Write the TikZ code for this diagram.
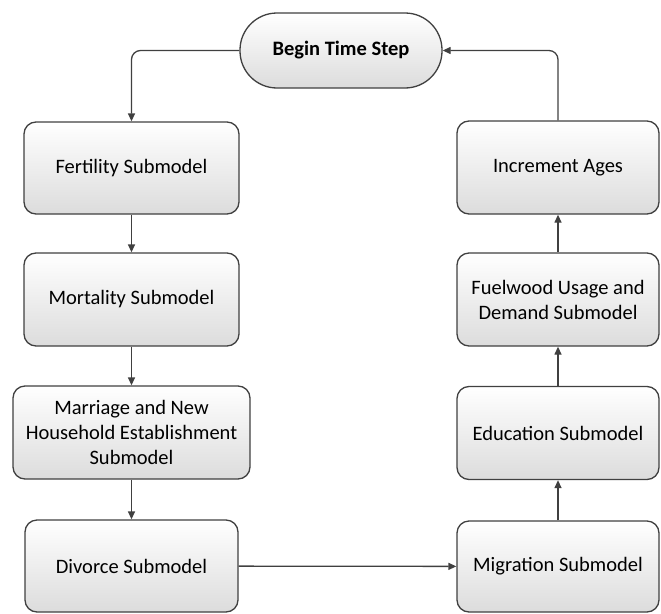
\documentclass[tikz,border=0pt]{standalone}
\usepackage{fontspec}
\setmainfont{Carlito}
\usetikzlibrary{arrows.meta}
\usepackage{xcolor}
\definecolor{linegray}{HTML}{404040}
\definecolor{shadegray}{HTML}{DCDCDC}

\begin{document}
\begin{tikzpicture}[x=1pt,y=1pt,
    box/.style={draw=linegray, line width=1.3pt, rounded corners=12pt,
      top color=white, bottom color=shadegray, inner sep=0pt,
      align=center, font=\fontsize{20.5}{25}\selectfont},
    flow/.style={draw=linegray, line width=1.3pt,
      -{Triangle[length=8pt,width=7pt]}}]

        \useasboundingbox (0,0) rectangle (661,-613);

        % Start
        \node[box, rounded corners=37pt, minimum width=202, minimum height=75,
          font=\fontsize{20.5}{25}\selectfont\bfseries]
          (begin) at (341,-50.5) {Begin Time Step};

        % Left column
        \node[box, minimum width=215, minimum height=92] (fert) at (131.5,-168) {Fertility Submodel};
        \node[box, minimum width=215, minimum height=93] (mort) at (131.5,-299.5) {Mortality Submodel};
        \node[box, minimum width=237, minimum height=93] (marr) at (131.5,-432.5)
          {Marriage and New\\Household Establishment\\Submodel};
        \node[box, minimum width=213, minimum height=92] (div) at (131.5,-566) {Divorce Submodel};

        % Right column
        \node[box, minimum width=202, minimum height=91] (migr) at (558,-566.5) {Migration Submodel};
        \node[box, minimum width=202, minimum height=93] (educ) at (558,-433) {Education Submodel};
        \node[box, minimum width=202, minimum height=93] (fuel) at (558,-299.5)
          {Fuelwood Usage and\\Demand Submodel};
        \node[box, minimum width=202, minimum height=93] (incr) at (558,-167.5) {Increment Ages};

        % Connectors
        \draw[flow, rounded corners=9pt] (begin.west) -| (fert.north);
        \draw[flow] (fert) -- (mort);
        \draw[flow] (mort) -- (marr);
        \draw[flow] (marr) -- (div);
        \draw[flow] (div) -- (migr);
        \draw[flow] (migr) -- (educ);
        \draw[flow] (educ) -- (fuel);
        \draw[flow] (fuel) -- (incr);
        \draw[flow, rounded corners=9pt] (incr.north) |- (begin.east);
    \end{tikzpicture}
\end{document}
